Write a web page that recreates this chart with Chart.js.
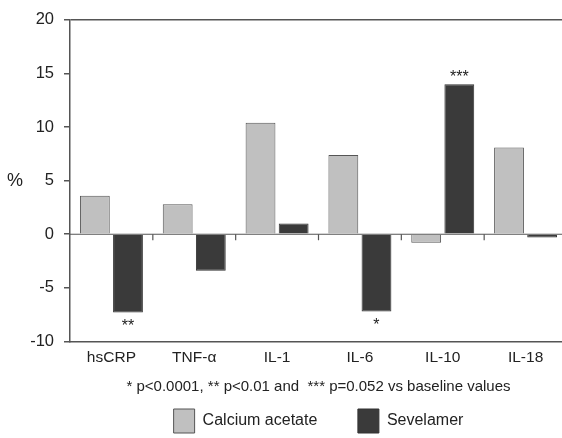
<!DOCTYPE html>
<html>
<head>
<meta charset="utf-8">
<script src="https://cdn.jsdelivr.net/npm/chart.js@4/dist/chart.umd.min.js"></script>
<style>
  html, body { margin: 0; padding: 0; background: #fff; overflow: hidden; }
  #wrap { width: 572px; height: 438px; }
</style>
</head>
<body>
<div id="wrap"><canvas id="chart"></canvas></div>
<script>
// values (% change)
const markers = ['hsCRP', 'TNF-\u03b1', 'IL-1', 'IL-6', 'IL-10', 'IL-18'];
const calciumAcetate = [3.6, 2.8, 10.4, 7.4, -0.8, 8.1];
const sevelamer = [-7.3, -3.4, 1.0, -7.2, 14.0, -0.3];
const sevelamerStars = ['**', '', '', '*', '***', ''];
const yTicks = [-10, -5, 0, 5, 10, 15, 20];
const footnote = '* p<0.0001, ** p<0.01 and  *** p=0.052 vs baseline values';

const font = 'Arial, "Liberation Sans", sans-serif';

// zero line ticks, "%" label and significance stars
const extras = {
  id: 'extras',
  afterDatasetsDraw(chart) {
    const ctx = chart.ctx;
    const x = chart.scales.x, y = chart.scales.y;
    const zero = y.getPixelForValue(0);
    ctx.save();
    ctx.strokeStyle = '#555';
    ctx.lineWidth = 1.2;
    ctx.beginPath();
    ctx.moveTo(chart.chartArea.left, zero);
    ctx.lineTo(chart.chartArea.right, zero);
    ctx.stroke();
    for (let i = 0; i < markers.length - 1; i++) {
      const bx = (x.getPixelForValue(i) + x.getPixelForValue(i + 1)) / 2;
      ctx.beginPath();
      ctx.moveTo(bx, zero);
      ctx.lineTo(bx, zero + 6);
      ctx.stroke();
    }
    ctx.fillStyle = '#222';
    ctx.font = '18px ' + font;
    ctx.textAlign = 'center';
    ctx.textBaseline = 'middle';
    ctx.fillText('%', 15, (chart.chartArea.top + chart.chartArea.bottom) / 2);

    const meta = chart.getDatasetMeta(1);
    ctx.font = '16px ' + font;
    sevelamerStars.forEach((s, i) => {
      if (!s) return;
      const bar = meta.data[i];
      if (sevelamer[i] < 0) {
        ctx.textBaseline = 'top';
        ctx.fillText(s, bar.x, bar.y + 6);
      } else {
        ctx.textBaseline = 'bottom';
        ctx.fillText(s, bar.x, bar.y + 1);
      }
    });
    ctx.restore();
  }
};

new Chart(document.getElementById('chart'), {
  type: 'bar',
  data: {
    labels: markers,
    datasets: [{
      label: 'Calcium acetate',
      data: calciumAcetate,
      backgroundColor: '#c0c0c0',
      borderColor: '#555',
      borderWidth: 1
    }, {
      label: 'Sevelamer',
      data: sevelamer,
      backgroundColor: '#3a3a3a',
      borderColor: '#333',
      borderWidth: 1
    }]
  },
  options: {
    responsive: true,
    maintainAspectRatio: false,
    animation: false,
    layout: { padding: { left: 0, right: 5, top: 7, bottom: -5 } },
    scales: {
      x: {
        grid: { display: false, drawTicks: false },
        border: { display: true, color: '#555', width: 1.5 },
        ticks: { color: '#222', font: { size: 15.5, family: font }, padding: 7 },
        categoryPercentage: 0.59,
        barPercentage: 1,
        title: {
          display: true,
          text: footnote,
          color: '#222',
          font: { size: 15, family: font },
          padding: { top: 4, bottom: 8 }
        }
      },
      y: {
        min: -10,
        max: 20,
        afterBuildTicks: s => { s.ticks = yTicks.map(v => ({ value: v })); },
        afterFit: s => { s.width = 70; },
        grid: {
          color: c => (c.tick && c.tick.value === 20) ? '#555' : 'transparent',
          lineWidth: 1.5,
          tickColor: '#555',
          tickLength: 6
        },
        border: { display: true, color: '#555', width: 1.5 },
        ticks: { color: '#222', font: { size: 16.5, family: font }, padding: 10 }
      }
    },
    plugins: {
      legend: {
        position: 'bottom',
        fullSize: false,
        labels: {
          color: '#222',
          font: { size: 16, family: font },
          boxWidth: 21,
          boxHeight: 24,
          padding: 5,
          generateLabels: chart => {
            const items = Chart.defaults.plugins.legend.labels.generateLabels(chart);
            items[0].text += '\u00a0'.repeat(8);
            items.forEach(it => { it.lineWidth = 1; });
            return items;
          }
        }
      },
      tooltip: { enabled: false }
    }
  },
  plugins: [extras]
});
</script>
</body>
</html>
